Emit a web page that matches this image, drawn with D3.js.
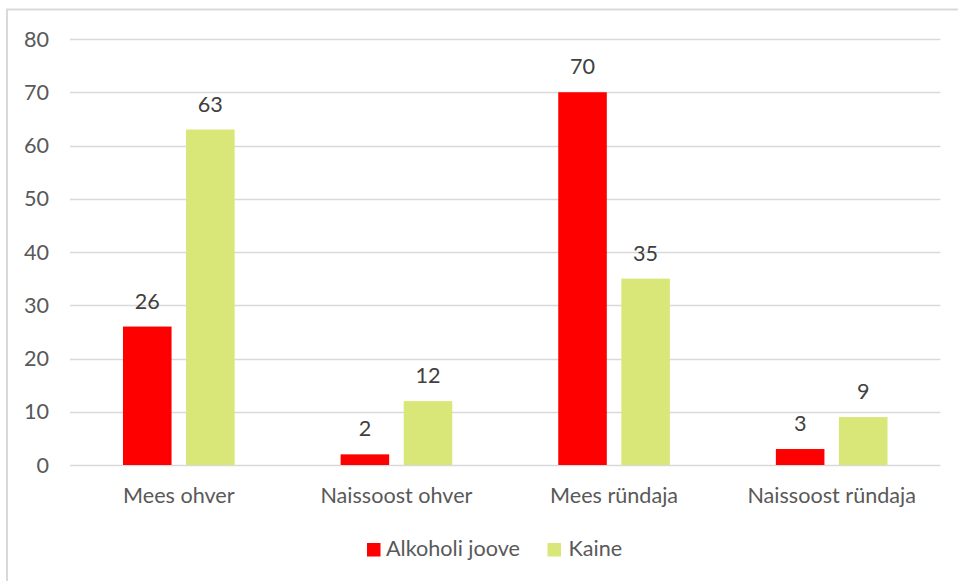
<!DOCTYPE html>
<html>
<head>
<meta charset="utf-8">
<script src="https://cdn.jsdelivr.net/npm/d3@7"></script>
<style>
  body { margin: 0; background: #fff; }
  svg { display: block; font-family: Lato, "Open Sans", sans-serif; }
</style>
</head>
<body>
<div id="chart"></div>
<script>
// datos del grafico
var categories = ["Mees ohver", "Naissoost ohver", "Mees ründaja", "Naissoost ründaja"];
var seriesNames = ["Alkoholi joove", "Kaine"];
var alkoholi = [26, 2, 70, 3];
var kaine = [63, 12, 35, 9];
var yTicks = [0, 10, 20, 30, 40, 50, 60, 70, 80];
var colors = ["#ff0000", "#d9e778"];

var width = 958, height = 581,
    fontSize = "21.6px";
var svg = d3.select("#chart").append("svg")
    .attr("width", width)
    .attr("height", height);

// marco exterior
svg.append("path")
    .attr("d", "M7," + height + "V9.5H" + width)
    .attr("fill", "none")
    .attr("stroke", "#d9d9d9")
    .attr("stroke-width", 2);

var x0 = d3.scaleBand().domain(categories).range([70, 940.5]);
var x1 = d3.scaleBand().domain(seriesNames)
    .range([0, x0.bandwidth()])
    .paddingInner(0.23)
    .paddingOuter(0.84);
var y = d3.scaleLinear().domain([0, 80]).range([465, 39]);

// lineas de rejilla
svg.append("g").selectAll("line")
    .data(yTicks)
    .enter().append("line")
    .attr("x1", 70).attr("x2", 940.5)
    .attr("y1", function (d) { return Math.round(y(d)) + 0.5 })
    .attr("y2", function (d) { return Math.round(y(d)) + 0.5 })
    .attr("stroke", "#d9d9d9")
    .attr("stroke-width", 1.5);

// etiquetas del eje y
svg.append("g").selectAll("text")
    .data(yTicks)
    .enter().append("text")
    .attr("x", 49)
    .attr("y", function (d) { return y(d) })
    .attr("dy", "0.35em")
    .attr("text-anchor", "end")
    .attr("fill", "#595959")
    .style("font-size", fontSize)
    .text(function (d) { return d });

var rows = categories.map(function (c, i) {
    return { cat: c, values: [alkoholi[i], kaine[i]] };
});

var groups = svg.append("g").selectAll("g")
    .data(rows)
    .enter().append("g")
    .attr("transform", function (d) { return "translate(" + x0(d.cat) + ",0)" });

groups.selectAll("rect")
    .data(function (d) { return d.values.map(function (v, j) { return { s: seriesNames[j], v: v, j: j } }) })
    .enter().append("rect")
    .attr("x", function (d) { return x1(d.s) })
    .attr("width", x1.bandwidth())
    .attr("y", function (d) { return y(d.v) })
    .attr("height", function (d) { return y(0) - y(d.v) })
    .attr("fill", function (d) { return colors[d.j] });

groups.selectAll("text")
    .data(function (d) { return d.values.map(function (v, j) { return { s: seriesNames[j], v: v } }) })
    .enter().append("text")
    .attr("x", function (d) { return x1(d.s) + x1.bandwidth() / 2 })
    .attr("y", function (d) { return y(d.v) - 18 })
    .attr("text-anchor", "middle")
    .attr("fill", "#404040")
    .style("font-size", fontSize)
    .text(function (d) { return d.v });

// etiquetas de categorias
svg.append("g").selectAll("text")
    .data(categories)
    .enter().append("text")
    .attr("x", function (d) { return x0(d) + x0.bandwidth() / 2 })
    .attr("y", 503)
    .attr("text-anchor", "middle")
    .attr("fill", "#595959")
    .style("font-size", fontSize)
    .text(function (d) { return d });

// leyenda
var legendX = [367, 547.5];
var legend = svg.append("g").selectAll("g")
    .data(seriesNames)
    .enter().append("g")
    .attr("transform", function (d, i) { return "translate(" + legendX[i] + ",543)" });
legend.append("rect")
    .attr("width", 13.5).attr("height", 13.5)
    .attr("fill", function (d, i) { return colors[i] });
legend.append("text")
    .attr("x", function (d, i) { return i === 0 ? 19 : 21 })
    .attr("y", 13)
    .attr("fill", "#595959")
    .style("font-size", fontSize)
    .text(function (d) { return d });
</script>
</body>
</html>
